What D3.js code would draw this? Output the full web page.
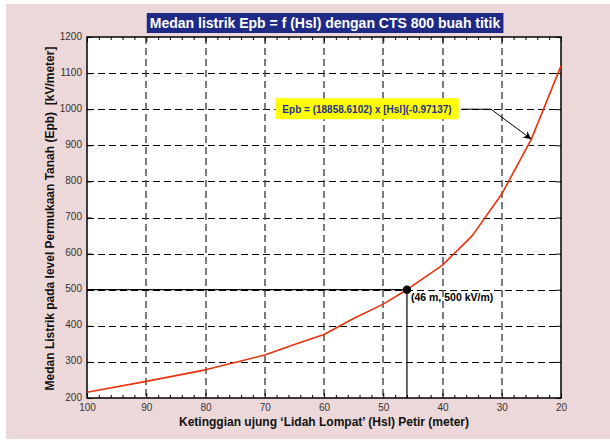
<!DOCTYPE html>
<html>
<head>
<meta charset="utf-8">
<script src="https://cdn.jsdelivr.net/npm/d3@7"></script>
<style>
  html, body { margin: 0; padding: 0; background: #fff; }
  svg { display: block; font-family: "Liberation Sans", Arial, sans-serif; }
</style>
</head>
<body>
<svg id="chart" width="610" height="443"></svg>
<script>
// Lightning height (m) and electric field at ground level (kV/m)
const heights = [100, 90, 80, 70, 65, 60, 55, 50, 46, 40, 35, 30, 25, 20];
const fields  = [216, 246, 278, 319, 348, 376, 420, 460, 500, 568, 649, 765, 917, 1120];

const xTicks = [100, 90, 80, 70, 60, 50, 40, 30, 20];
const yTicks = [200, 300, 400, 500, 600, 700, 800, 900, 1000, 1100, 1200];

const titleText = "Medan listrik Epb = f (Hsl) dengan CTS 800 buah titik";
const xLabel = "Ketinggian ujung \u2018Lidah Lompat\u2019 (Hsl) Petir (meter)";
const yLabel = "Medan Listrik pada level Permukaan Tanah (Epb)\u00a0\u00a0[kV/meter]";
const formulaText = "Epb = (18858.6102) x [Hsl](-0.97137)";
const marked = { h: 46, e: 500, label: "(46 m, 500 kV/m)" };
const arrowTarget = { h: 25, e: 917 };

const svg = d3.select("#chart");
const pL = 87, pR = 561, pT = 37, pB = 398;

const x = d3.scaleLinear().domain([100, 20]).range([pL, pR]);
const y = d3.scaleLinear().domain([200, 1200]).range([pB, pT]);

// figure background
svg.append("rect").attr("x", 6).attr("y", 4).attr("width", 604).attr("height", 435)
  .attr("fill", "#ecd8d8");

// plot area
svg.append("rect").attr("x", pL).attr("y", pT)
  .attr("width", pR - pL).attr("height", pB - pT).attr("fill", "#fff");

// dashed grid
const grid = svg.append("g");
grid.selectAll("line.gy").data(yTicks.slice(1, -1)).join("line")
  .attr("x1", pL).attr("x2", pR)
  .attr("y1", d => Math.round(y(d)) + 0.5).attr("y2", d => Math.round(y(d)) + 0.5)
  .attr("stroke", "#000").attr("stroke-width", 1).attr("stroke-dasharray", "7,4");
grid.selectAll("line.gx").data(xTicks.slice(1, -1)).join("line")
  .attr("y1", pT).attr("y2", pB)
  .attr("x1", d => Math.round(x(d))).attr("x2", d => Math.round(x(d)))
  .attr("stroke", "#444").attr("stroke-width", 1.4).attr("stroke-dasharray", "7,4");

// axes with inward ticks
const fmt = d3.format("d");
const minorX = d3.range(98, 20, -2).filter(v => v % 10 !== 0);
const gx = svg.append("g").attr("transform", `translate(0,${pB})`)
  .call(d3.axisBottom(x).tickValues(xTicks).tickFormat(fmt).tickSizeInner(-5).tickSizeOuter(0).tickPadding(7));
const gxMinor = svg.append("g").attr("transform", `translate(0,${pB})`)
  .call(d3.axisBottom(x).tickValues(minorX).tickSizeInner(-3).tickSizeOuter(0).tickFormat(""));
const gxTop = svg.append("g").attr("transform", `translate(0,${pT})`)
  .call(d3.axisTop(x).tickValues(xTicks).tickSizeInner(-5).tickSizeOuter(0).tickFormat(""));
const gxTopMinor = svg.append("g").attr("transform", `translate(0,${pT})`)
  .call(d3.axisTop(x).tickValues(minorX).tickSizeInner(-3).tickSizeOuter(0).tickFormat(""));
const gy = svg.append("g").attr("transform", `translate(${pL},0)`)
  .call(d3.axisLeft(y).tickValues(yTicks).tickFormat(fmt).tickSizeInner(-5).tickSizeOuter(0).tickPadding(5));
const gyRight = svg.append("g").attr("transform", `translate(${pR},0)`)
  .call(d3.axisRight(y).tickValues(yTicks).tickSizeInner(-5).tickSizeOuter(0).tickFormat(""));

[gx, gxMinor, gxTop, gxTopMinor, gy, gyRight].forEach(g => {
  g.select(".domain").remove();
  g.selectAll(".tick line").attr("stroke", "#000");
  g.selectAll(".tick text").attr("fill", "#333").style("font-size", "10px")
    .style("font-family", "'Liberation Sans', Arial, sans-serif");
});
gx.selectAll(".tick text").attr("dy", "0.55em");
gy.selectAll(".tick text").attr("dy", "0.2em");

// plot frame
svg.append("rect").attr("x", pL).attr("y", pT)
  .attr("width", pR - pL).attr("height", pB - pT)
  .attr("fill", "none").attr("stroke", "#000").attr("stroke-width", 1.5);

// reference lines to the marked point
svg.append("line").attr("x1", pL).attr("x2", x(marked.h))
  .attr("y1", y(marked.e)).attr("y2", y(marked.e)).attr("stroke", "#000").attr("stroke-width", 1.2);
svg.append("line").attr("x1", x(marked.h)).attr("x2", x(marked.h))
  .attr("y1", y(marked.e)).attr("y2", pB).attr("stroke", "#000").attr("stroke-width", 1.2);

// field curve
const line = d3.line().x((d, i) => x(heights[i])).y(d => y(d));
svg.append("path").datum(fields).attr("d", line)
  .attr("fill", "none").attr("stroke", "#e8320c").attr("stroke-width", 1.6)
  .attr("stroke-linejoin", "round");

// marked point
svg.append("circle").attr("cx", x(marked.h)).attr("cy", y(marked.e)).attr("r", 4.2).attr("fill", "#000");
svg.append("text").attr("x", x(marked.h) + 4).attr("y", y(marked.e) + 11)
  .attr("font-size", "10.5px").attr("font-weight", "bold").attr("fill", "#000")
  .text(marked.label);

// formula annotation with arrow
const fx = 367, fy = y(1000);
const ft = svg.append("text").attr("x", fx).attr("y", fy + 3.6)
  .attr("text-anchor", "middle").attr("font-size", "10px").attr("font-weight", "bold")
  .attr("fill", "#1f2f8f").text(formulaText);
const fb = ft.node().getBBox();
svg.insert("rect", () => ft.node())
  .attr("x", fb.x - 7).attr("y", fy - 11).attr("width", fb.width + 14).attr("height", 21)
  .attr("fill", "#ffff00");

svg.append("defs").append("marker").attr("id", "arrowhead")
  .attr("viewBox", "0 0 10 10").attr("refX", 10).attr("refY", 5)
  .attr("markerWidth", 11).attr("markerHeight", 8).attr("markerUnits", "userSpaceOnUse")
  .attr("orient", "auto")
  .append("path").attr("d", "M0,0 L10,5 L0,10 L3,5 Z").attr("fill", "#000");
svg.append("polyline")
  .attr("points", `${fb.x + fb.width + 10},${fy} ${491},${fy} ${x(arrowTarget.h)},${y(arrowTarget.e)}`)
  .attr("fill", "none").attr("stroke", "#000").attr("stroke-width", 1)
  .attr("marker-end", "url(#arrowhead)");

// title
const tt = svg.append("text").attr("x", 325).attr("y", 28)
  .attr("text-anchor", "middle").attr("font-size", "14px").attr("font-weight", "bold")
  .attr("fill", "#fff").text(titleText);
const tb = tt.node().getBBox();
svg.insert("rect", () => tt.node())
  .attr("x", tb.x - 3).attr("y", 13).attr("width", tb.width + 6).attr("height", 20)
  .attr("fill", "#1f2a86");

// axis titles
svg.append("text").attr("x", (pL + pR) / 2).attr("y", 426)
  .attr("text-anchor", "middle").attr("font-size", "12px").attr("font-weight", "bold")
  .attr("fill", "#111").text(xLabel);
svg.append("text").attr("transform", `translate(53.5,${(pT + pB) / 2 + 1}) rotate(-90)`)
  .attr("text-anchor", "middle").attr("font-size", "12px").attr("font-weight", "bold")
  .attr("fill", "#111").text(yLabel);
</script>
</body>
</html>
